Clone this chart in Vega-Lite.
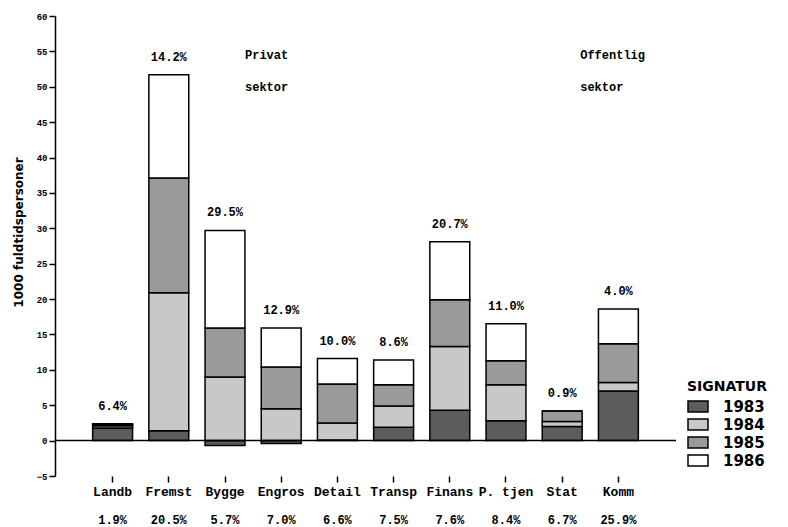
{
  "$schema": "https://vega.github.io/schema/vega-lite/v6.json",
  "width": 621,
  "height": 460,
  "autosize": "none",
  "padding": {"left": 55, "top": 16, "right": 112, "bottom": 51},
  "background": "white",
  "config": {"view": {"stroke": null}, "font": "Liberation Mono", "axis": {"labelOverlap": false}, "axisY": {"labelOverlap": false}},
  "datasets": {
    "bars": [
      {"cat": "Landb", "year": "1983", "value": 1.8}, {"cat": "Landb", "year": "1984", "value": 0.3}, {"cat": "Landb", "year": "1985", "value": 0.2}, {"cat": "Landb", "year": "1986", "value": 0.1},
      {"cat": "Fremst", "year": "1983", "value": 1.4}, {"cat": "Fremst", "year": "1984", "value": 19.5}, {"cat": "Fremst", "year": "1985", "value": 16.2}, {"cat": "Fremst", "year": "1986", "value": 14.6},
      {"cat": "Bygge", "year": "1983", "value": -0.7}, {"cat": "Bygge", "year": "1984", "value": 9.0}, {"cat": "Bygge", "year": "1985", "value": 6.9}, {"cat": "Bygge", "year": "1986", "value": 13.8},
      {"cat": "Engros", "year": "1983", "value": -0.4}, {"cat": "Engros", "year": "1984", "value": 4.5}, {"cat": "Engros", "year": "1985", "value": 5.9}, {"cat": "Engros", "year": "1986", "value": 5.5},
      {"cat": "Detail", "year": "1983", "value": 0.1}, {"cat": "Detail", "year": "1984", "value": 2.4}, {"cat": "Detail", "year": "1985", "value": 5.5}, {"cat": "Detail", "year": "1986", "value": 3.6},
      {"cat": "Transp", "year": "1983", "value": 1.9}, {"cat": "Transp", "year": "1984", "value": 3.0}, {"cat": "Transp", "year": "1985", "value": 3.0}, {"cat": "Transp", "year": "1986", "value": 3.5},
      {"cat": "Finans", "year": "1983", "value": 4.3}, {"cat": "Finans", "year": "1984", "value": 9.0}, {"cat": "Finans", "year": "1985", "value": 6.6}, {"cat": "Finans", "year": "1986", "value": 8.2},
      {"cat": "P. tjen", "year": "1983", "value": 2.8}, {"cat": "P. tjen", "year": "1984", "value": 5.1}, {"cat": "P. tjen", "year": "1985", "value": 3.4}, {"cat": "P. tjen", "year": "1986", "value": 5.2},
      {"cat": "Stat", "year": "1983", "value": 2.0}, {"cat": "Stat", "year": "1984", "value": 0.7}, {"cat": "Stat", "year": "1985", "value": 1.5}, {"cat": "Stat", "year": "1986", "value": 0.0},
      {"cat": "Komm", "year": "1983", "value": 7.0}, {"cat": "Komm", "year": "1984", "value": 1.2}, {"cat": "Komm", "year": "1985", "value": 5.5}, {"cat": "Komm", "year": "1986", "value": 4.9}
    ],
    "labels": [
      {"cat": "Landb", "top": "6.4%", "bottom": "1.9%"},
      {"cat": "Fremst", "top": "14.2%", "bottom": "20.5%"},
      {"cat": "Bygge", "top": "29.5%", "bottom": "5.7%"},
      {"cat": "Engros", "top": "12.9%", "bottom": "7.0%"},
      {"cat": "Detail", "top": "10.0%", "bottom": "6.6%"},
      {"cat": "Transp", "top": "8.6%", "bottom": "7.5%"},
      {"cat": "Finans", "top": "20.7%", "bottom": "7.6%"},
      {"cat": "P. tjen", "top": "11.0%", "bottom": "8.4%"},
      {"cat": "Stat", "top": "0.9%", "bottom": "6.7%"},
      {"cat": "Komm", "top": "4.0%", "bottom": "25.9%"}
    ]
  },
  "layer": [
    {
      "data": {"name": "bars"},
      "mark": {"type": "bar", "stroke": "black", "strokeWidth": 1.5},
      "encoding": {
        "x": {
          "field": "cat", "type": "nominal", "sort": null,
          "scale": {"paddingInner": 0.29, "paddingOuter": 0.67},
          "axis": {"title": null, "domain": false, "ticks": true, "tickSize": 6, "tickWidth": 1.5, "tickColor": "black",
                   "labelAngle": 0, "labelFont": "Liberation Mono", "labelFontWeight": "bold", "labelFontSize": 13,
                   "labelColor": "black", "labelPadding": 3, "labelOverlap": false}
        },
        "y": {
          "field": "value", "type": "quantitative", "stack": "zero",
          "scale": {"domain": [-5, 60], "nice": false, "zero": false},
          "axis": {"title": "1000 fuldtidspersoner", "values": [-5, 0, 5, 10, 15, 20, 25, 30, 35, 40, 45, 50, 55, 60], "tickCount": 14,
                   "grid": false, "domainColor": "black", "domainWidth": 1.5, "tickColor": "black", "tickWidth": 1.5, "tickSize": 6,
                   "labelOverlap": false, "labelBound": false, "labelFlush": false,
                   "labelFont": "Liberation Mono", "labelFontWeight": "bold", "labelFontSize": 9, "labelColor": "black", "labelPadding": 2,
                   "titleFont": "DejaVu Sans", "titleFontWeight": "bold", "titleFontSize": 12, "titleColor": "black",
                   "titleX": -37, "titleY": 216, "titleAlign": "center", "titleBaseline": "middle", "titleAngle": 270}
        },
        "fill": {
          "field": "year", "type": "nominal",
          "scale": {"domain": ["1983", "1984", "1985", "1986"], "range": ["#5c5c5c", "#c8c8c8", "#9a9a9a", "#ffffff"]},
          "legend": {
            "title": "SIGNATUR", "orient": "none", "legendX": 632, "legendY": 364,
            "titleFont": "DejaVu Sans", "titleFontWeight": "bold", "titleFontSize": 14, "titleColor": "black", "titlePadding": 4,
            "labelFont": "DejaVu Sans", "labelFontWeight": "bold", "labelFontSize": 15, "labelColor": "black", "labelOffset": 14,
            "symbolType": "M-1,-0.55H1V0.55H-1Z", "symbolSize": 400, "symbolStrokeColor": "black", "symbolStrokeWidth": 1.5,
            "symbolOpacity": 1, "clipHeight": 17, "rowPadding": 1
          }
        },
        "order": {"field": "year", "sort": "ascending"}
      }
    },
    {
      "data": {"values": [{}]},
      "mark": {"type": "rule", "stroke": "black", "strokeWidth": 1.5},
      "encoding": {"y": {"datum": 0}}
    },
    {
      "data": {"name": "bars"},
      "transform": [
        {"filter": "datum.value > 0"},
        {"aggregate": [{"op": "sum", "field": "value", "as": "total"}], "groupby": ["cat"]},
        {"lookup": "cat", "from": {"data": {"name": "labels"}, "key": "cat", "fields": ["top", "bottom"]}}
      ],
      "layer": [
        {
          "mark": {"type": "text", "font": "Liberation Mono", "fontWeight": "bold", "fontSize": 12, "color": "black", "baseline": "bottom", "dy": -11},
          "encoding": {
            "x": {"field": "cat", "type": "nominal", "sort": null},
            "y": {"field": "total", "type": "quantitative"},
            "text": {"field": "top"}
          }
        },
        {
          "mark": {"type": "text", "font": "Liberation Mono", "fontWeight": "bold", "fontSize": 12, "color": "black", "baseline": "middle"},
          "encoding": {
            "x": {"field": "cat", "type": "nominal", "sort": null},
            "y": {"datum": -11.2},
            "text": {"field": "bottom"}
          }
        }
      ]
    },
    {
      "data": {"values": [{"t": "Privat"}]},
      "mark": {"type": "text", "font": "Liberation Mono", "fontWeight": "bold", "fontSize": 12, "color": "black", "align": "left", "baseline": "middle", "dx": 20},
      "encoding": {"x": {"datum": "Bygge"}, "y": {"datum": 54.5}, "text": {"field": "t"}}
    },
    {
      "data": {"values": [{"t": "sektor"}]},
      "mark": {"type": "text", "font": "Liberation Mono", "fontWeight": "bold", "fontSize": 12, "color": "black", "align": "left", "baseline": "middle", "dx": 20},
      "encoding": {"x": {"datum": "Bygge"}, "y": {"datum": 50.0}, "text": {"field": "t"}}
    },
    {
      "data": {"values": [{"t": "Offentlig"}]},
      "mark": {"type": "text", "font": "Liberation Mono", "fontWeight": "bold", "fontSize": 12, "color": "black", "align": "left", "baseline": "middle", "dx": 18},
      "encoding": {"x": {"datum": "Stat"}, "y": {"datum": 54.5}, "text": {"field": "t"}}
    },
    {
      "data": {"values": [{"t": "sektor"}]},
      "mark": {"type": "text", "font": "Liberation Mono", "fontWeight": "bold", "fontSize": 12, "color": "black", "align": "left", "baseline": "middle", "dx": 18},
      "encoding": {"x": {"datum": "Stat"}, "y": {"datum": 50.0}, "text": {"field": "t"}}
    }
  ]
}
